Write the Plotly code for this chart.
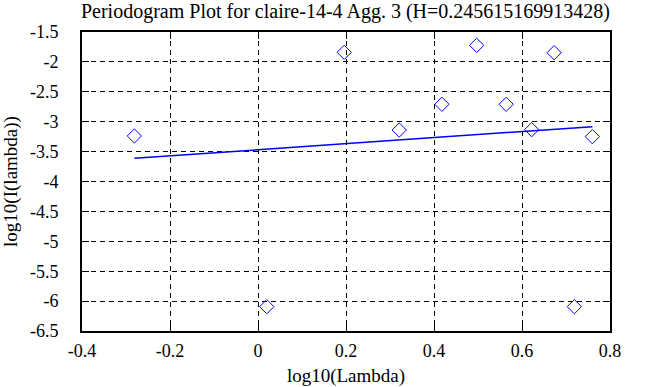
import plotly.graph_objects as go

# log10(Lambda) of the periodogram points
log_lambda = [-0.281, 0.020, 0.196, 0.321, 0.418, 0.497, 0.564, 0.622, 0.673, 0.719, 0.760]
# log10(I(lambda))
log_I = [-3.239, -6.093, -1.840, -3.139, -2.709, -1.723, -2.709, -3.133, -1.846, -6.093, -3.250]

# least squares fit line end points
fit_x = [-0.281, 0.760]
fit_y = [-3.612, -3.083]

x_ticks = [-0.4, -0.2, 0, 0.2, 0.4, 0.6, 0.8]
x_labels = ["-0.4", "-0.2", "0", "0.2", "0.4", "0.6", "0.8"]
y_ticks = [-6.5, -6, -5.5, -5, -4.5, -4, -3.5, -3, -2.5, -2, -1.5]
y_labels = ["-6.5", "-6", "-5.5", "-5", "-4.5", "-4", "-3.5", "-3", "-2.5", "-2", "-1.5"]

title = "Periodogram Plot for claire-14-4 Agg. 3 (H=0.245615169913428)"

font = "Liberation Serif"
fsize = 18

fig = go.Figure()
fig.add_trace(go.Scatter(
    x=log_lambda, y=log_I, mode="markers",
    marker=dict(symbol="diamond-open", size=11, color="#0000ff", line=dict(width=1, color="#0000ff")),
    showlegend=False, hoverinfo="skip"))
fig.add_trace(go.Scatter(
    x=fit_x, y=fit_y, mode="lines",
    line=dict(color="#0000ff", width=1.5),
    showlegend=False, hoverinfo="skip"))

axis_common = dict(
    showline=True, linecolor="black", linewidth=2, mirror="allticks",
    ticks="inside", ticklen=7, tickwidth=1, tickcolor="black",
    showgrid=True, gridcolor="black", gridwidth=1, griddash="5px,4px",
    zeroline=False, automargin=False,
    tickfont=dict(family=font, size=fsize, color="black"),
)

fig.update_xaxes(
    range=[-0.4, 0.8], tickvals=x_ticks, ticktext=x_labels, ticklabelstandoff=2,
    title=dict(text="log10(Lambda)", font=dict(family=font, size=19, color="black")),
    **axis_common)
fig.update_yaxes(
    range=[-6.5, -1.5], tickvals=y_ticks, ticktext=y_labels, ticklabelstandoff=18,
    title=dict(text="log10(I(lambda))", font=dict(family=font, size=19, color="black")),
    **axis_common)

fig.update_layout(
    width=658, height=387,
    margin=dict(l=82, r=48, t=32, b=56),
    paper_bgcolor="white", plot_bgcolor="white",
    title=dict(text=title, x=0.525, xanchor="center", y=0.99, yanchor="top",
               font=dict(family=font, size=20, color="black")),
)

fig.write_html("out.html", config={"displayModeBar": False},
               post_script="document.body.style.margin='0';")
